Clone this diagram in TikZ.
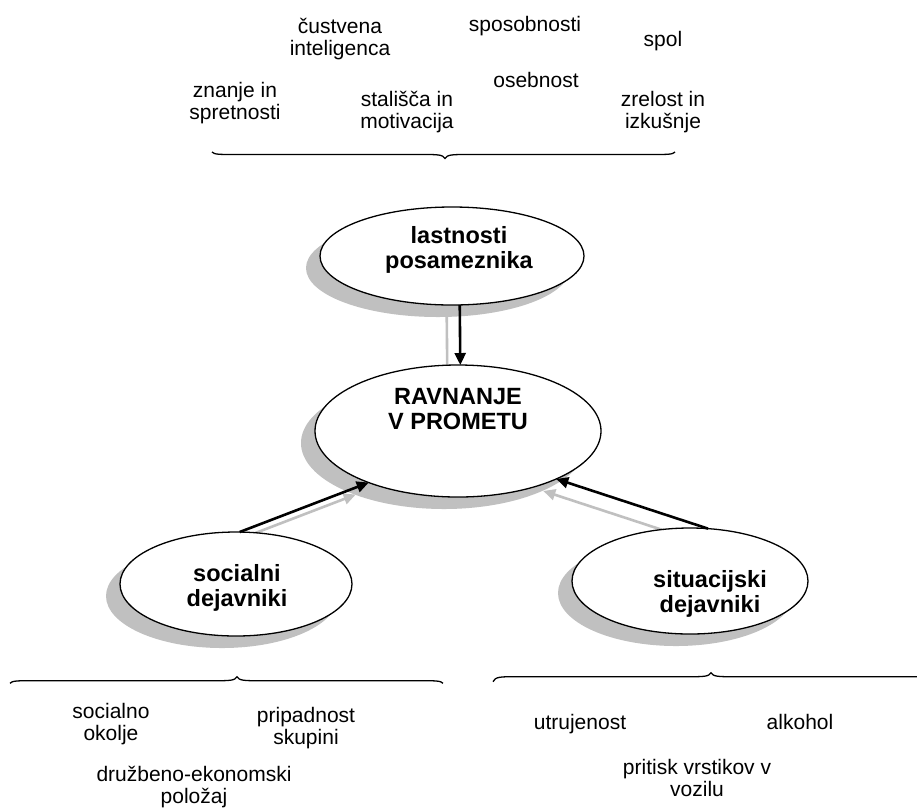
\documentclass[tikz,border=0pt]{standalone}
\usepackage{fontspec}
\setmainfont{Liberation Sans}
\usetikzlibrary{arrows.meta,shapes.geometric,shadows}
\definecolor{shadowgray}{RGB}{192,192,192}
\pgfdeclarelayer{bg}
\pgfsetlayers{bg,main}
\newcommand\twoline[2]{\begin{tabular}[t]{@{}c@{}}#1\\#2\end{tabular}}
% x0, x1, xtip, y ends, y line, y tip
\newcommand\wordbrace[6]{%
  \draw[braceline] (#1,#4) .. controls (#1+2,#5) and (#1+8,#5) .. (#1+22,#5)
    -- (#3-22,#5) .. controls (#3-8,#5) and (#3-2,#5) .. (#3,#6)
    .. controls (#3+2,#5) and (#3+8,#5) .. (#3+22,#5)
    -- (#2-22,#5) .. controls (#2-8,#5) and (#2-2,#5) .. (#2,#4);}
\begin{document}
\begin{tikzpicture}[x=1pt,y=-1pt,
  oval/.style={ellipse, draw, line width=1.3pt, fill=white, inner sep=0pt, outer sep=0pt,
    drop shadow={shadow xshift=-14pt, shadow yshift=-12pt, opacity=1, fill=shadowgray}},
  lbl/.style={anchor=base, inner sep=0pt, font=\fontsize{21}{22.5}\selectfont},
  blbl/.style={anchor=base, inner sep=0pt, font=\fontsize{23.5}{25.5}\selectfont\bfseries},
  arr/.style={line width=2.6pt, -{Triangle[length=12pt,width=11pt]}},
  sarr/.style={arr, draw=shadowgray, transform canvas={shift={(-13pt,-12pt)}}},
  braceline/.style={line width=1.3pt}]
\useasboundingbox (0,0) rectangle (917,807);
\clip (0,0) rectangle (917,807);

% braces
\wordbrace{212}{675}{445}{152}{154.5}{158.5}
\wordbrace{10}{443}{237}{683.3}{680.7}{676.7}
\wordbrace{493}{929}{711}{681.7}{676.7}{672.7}

% ellipses
\node[oval, minimum width=264pt, minimum height=98pt] (e1) at (452,256) {};
\node[oval, minimum width=286pt, minimum height=132pt] (e2) at (458,431) {};
\node[oval, minimum width=232pt, minimum height=104pt] (e3) at (236,584) {};
\node[oval, minimum width=236pt, minimum height=106pt] (e4) at (690,581) {};

% background and arrow shadows
\begin{pgfonlayer}{bg}
\fill[white] (0,0) rectangle (917,807);
\draw[sarr] (e1.-81) -- (e2.88);
\draw[sarr] (e3.86) -- (e2.-150);
\draw[sarr] (e4.71) -- (e2.-26);
\end{pgfonlayer}

% arrows
\draw[arr] (e1.-81) -- (e2.88);
\draw[arr] (e3.86) -- (e2.-150);
\draw[arr] (e4.71) -- (e2.-26);

% ellipse texts
\node[blbl] (l1) at (459,243) {\twoline{lastnosti}{posameznika}};
\node[blbl] (l2) at (458,404) {\twoline{RAVNANJE}{V PROMETU}};
\node[blbl] (l3) at (237,581) {\twoline{socialni}{dejavniki}};
\node[blbl] (l4) at (710,587) {\twoline{situacijski}{dejavniki}};

% top texts
\node[lbl] (t1) at (340,33) {\twoline{čustvena}{inteligenca}};
\node[lbl] (t2) at (525,31) {sposobnosti};
\node[lbl] (t3) at (663,46) {spol};
\node[lbl] (t4) at (235,97) {\twoline{znanje in}{spretnosti}};
\node[lbl] (t5) at (407,106) {\twoline{stališča in}{motivacija}};
\node[lbl] (t6) at (536,87) {osebnost};
\node[lbl] (t7) at (663,106) {\twoline{zrelost in}{izkušnje}};

% bottom texts
\node[lbl] (b1) at (111,718) {\twoline{socialno}{okolje}};
\node[lbl] (b2) at (306,722) {\twoline{pripadnost}{skupini}};
\node[lbl] (b3) at (194,781) {\twoline{družbeno-ekonomski}{položaj}};
\node[lbl] (b4) at (580,729) {utrujenost};
\node[lbl] (b5) at (800,729) {alkohol};
\node[lbl] (b6) at (697,774) {\twoline{pritisk vrstikov v}{vozilu}};
\end{tikzpicture}
\end{document}
